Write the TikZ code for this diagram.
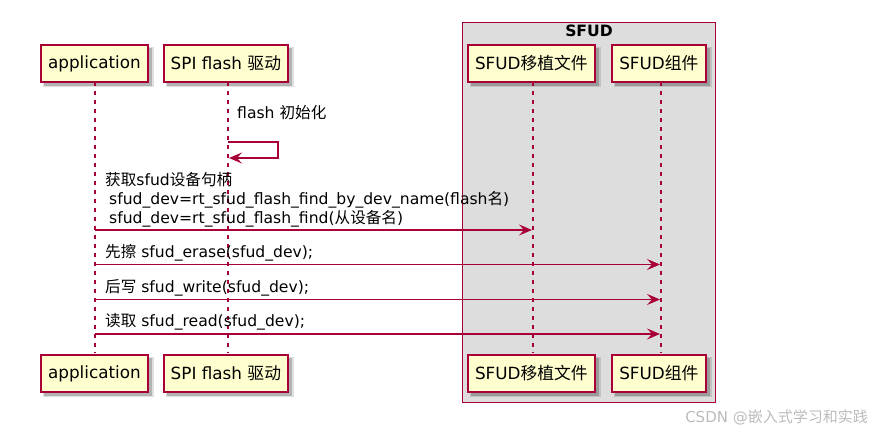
\documentclass[tikz,border=0pt]{standalone}
\usepackage{fontspec}
\setmainfont{DejaVu Sans}
\newfontfamily\cjk{Noto Sans CJK SC}
\usetikzlibrary{arrows.meta}
\definecolor{pborder}{HTML}{A80036}
\definecolor{pfill}{HTML}{FEFECE}
\definecolor{gfill}{HTML}{DDDDDD}
\definecolor{wmark}{HTML}{BBBBBB}
\tikzset{
  participant/.style={draw=pborder, line width=1.8pt, fill=pfill, minimum height=37pt, inner xsep=6pt, anchor=north west, font=\fontsize{16.8}{18}\selectfont},
  lifeline/.style={draw=pborder, line width=1.2pt, dash pattern=on 4.5pt off 4.5pt},
  msg/.style={draw=pborder, line width=1.3pt, -{Stealth[length=13pt,width=11pt,inset=5pt]}},
  msgtext/.style={anchor=west, inner sep=0pt, font=\fontsize{15.6}{19}\selectfont, align=left},
}
\begin{document}
\begin{tikzpicture}[x=1pt,y=-1pt]
\useasboundingbox (0,0) rectangle (873,435);
% group
\node[draw=pborder, line width=1.3pt, fill=gfill, minimum width=253pt, minimum height=380pt, anchor=north west, inner sep=0pt] (grp) at (462,22) {};
\node[font=\bfseries\fontsize{15.6}{18}\selectfont, inner sep=0pt] (grplabel) at (589,31) {SFUD};
% shadows
\foreach \a/\b/\t in {40/147/44, 163/287/44, 467/594/44, 611/705/44, 40/147/354, 163/287/354, 467/594/354, 611/705/354}{
  \fill[black, opacity=0.12] (\a+3,\t+3) rectangle (\b+6.5,\t+37+6.5);
  \fill[black, opacity=0.2] (\a+4,\t+4) rectangle (\b+5,\t+37+5);
}
% participants top
\node[participant, minimum width=107pt] (appT) at (40,44) {application};
\node[participant, minimum width=124pt] (spiT) at (163,44) {SPI flash {\cjk 驱动}};
\node[participant, minimum width=127pt] (portT) at (467,44) {SFUD{\cjk 移植文件}};
\node[participant, minimum width=94pt] (compT) at (611,44) {SFUD{\cjk 组件}};
% participants bottom
\node[participant, minimum width=107pt] (appB) at (40,354) {application};
\node[participant, minimum width=124pt] (spiB) at (163,354) {SPI flash {\cjk 驱动}};
\node[participant, minimum width=127pt] (portB) at (467,354) {SFUD{\cjk 移植文件}};
\node[participant, minimum width=94pt] (compB) at (611,354) {SFUD{\cjk 组件}};
% lifelines
\coordinate (appX1) at (95,81.9); \coordinate (appX2) at (95,353.1);
\coordinate (spiX1) at (228,81.9); \coordinate (spiX2) at (228,353.1);
\coordinate (portX1) at (533,81.9); \coordinate (portX2) at (533,353.1);
\coordinate (compX1) at (661,81.9); \coordinate (compX2) at (661,353.1);
\draw[lifeline] (appX1) -- (appX2);
\draw[lifeline] (spiX1) -- (spiX2);
\draw[lifeline] (portX1) -- (portX2);
\draw[lifeline] (compX1) -- (compX2);
% self message
\node[msgtext] (m0) at (237,113) {flash {\cjk 初始化}};
\coordinate (s1) at (228,142);
\coordinate (s2) at (278,142);
\coordinate (s3) at (278,158);
\coordinate (s4) at (229,158);
\draw[msg] (s1) -- (s2) -- (s3) -- (s4);
% message 1
\node[msgtext, anchor=north west] (m1) at (105,172) {{\cjk 获取}sfud{\cjk 设备句柄}\\ \hspace*{4pt}sfud\_dev=rt\_sfud\_flash\_find\_by\_dev\_name(flash{\cjk 名})\\ \hspace*{4pt}sfud\_dev=rt\_sfud\_flash\_find({\cjk 从设备名})};
\coordinate (a1s) at (95,230); \coordinate (a1e) at (532,230);
\draw[msg] (a1s) -- (a1e);
% message 2
\node[msgtext] (m2) at (105,253) {{\cjk 先擦} sfud\_erase(sfud\_dev);};
\coordinate (a2s) at (95,264.5); \coordinate (a2e) at (660,264.5);
\draw[msg] (a2s) -- (a2e);
% message 3
\node[msgtext] (m3) at (105,288) {{\cjk 后写} sfud\_write(sfud\_dev);};
\coordinate (a3s) at (95,299.5); \coordinate (a3e) at (660,299.5);
\draw[msg] (a3s) -- (a3e);
% message 4
\node[msgtext] (m4) at (105,322) {{\cjk 读取} sfud\_read(sfud\_dev);};
\coordinate (a4s) at (95,334); \coordinate (a4e) at (660,334);
\draw[msg] (a4s) -- (a4e);
% watermark
\node[anchor=east, inner sep=0pt, text=wmark, font=\fontsize{15}{17}\selectfont] (wm) at (868,417) {CSDN @{\cjk 嵌入式学习和实践}};
\end{tikzpicture}
\end{document}
